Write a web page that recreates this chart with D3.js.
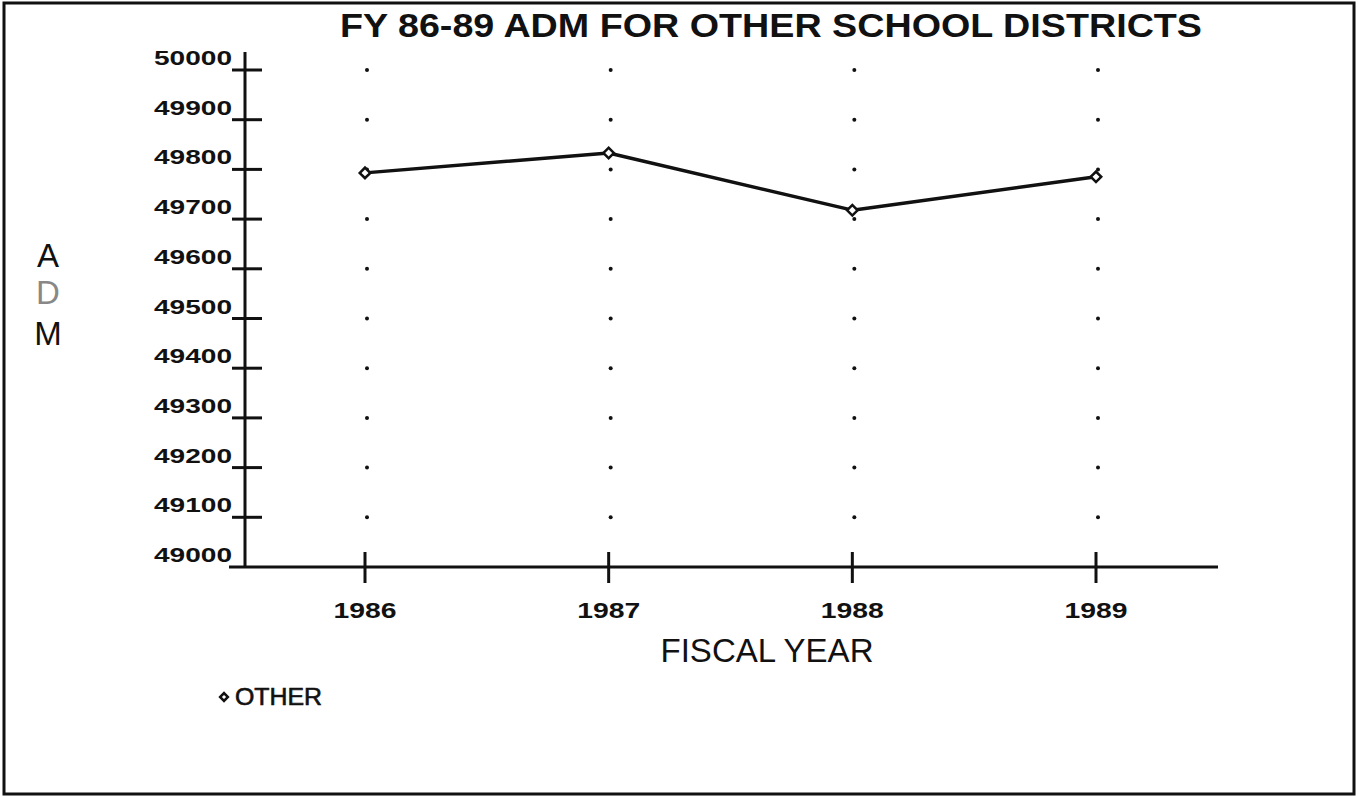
<!DOCTYPE html>
<html><head><meta charset="utf-8">
<script src="https://cdn.jsdelivr.net/npm/d3@7/dist/d3.min.js"></script>
<style>body{margin:0;background:#fff}svg{display:block}</style>
</head><body>
<script>
const years = ["1986","1987","1988","1989"];
const admValues = [49793, 49833, 49718, 49785];
const yTicks = [49000,49100,49200,49300,49400,49500,49600,49700,49800,49900,50000];
const seriesName = "OTHER";
const titleText = "FY 86-89 ADM FOR OTHER SCHOOL DISTRICTS";

const W = 1358, H = 797;
const svg = d3.select("body").append("svg").attr("width", W).attr("height", H);
svg.append("rect").attr("x",4).attr("y",3).attr("width",1350).attr("height",791)
  .attr("fill","#fff").attr("stroke","#111").attr("stroke-width",3);

const x = d3.scalePoint().domain(years).range([365, 1096]);
const y = d3.scaleLinear().domain([49000, 50000]).range([567, 70]);
const font = "Liberation Sans, Arial, sans-serif";

// title
svg.append("text").attr("x", 771).attr("y", 37).attr("text-anchor","middle")
  .attr("font-family", font).attr("font-weight","bold").attr("font-size", 33)
  .attr("textLength", 862).attr("lengthAdjust","spacingAndGlyphs")
  .attr("fill","#111").text(titleText);

// grid dots
const gridVals = yTicks.filter(v => v > 49000);
years.forEach(yr => {
  gridVals.forEach(v => {
    svg.append("circle").attr("cx", x(yr)+2).attr("cy", y(v)).attr("r", 2).attr("fill","#111");
  });
});

// axes lines
svg.append("line").attr("x1",245).attr("x2",245).attr("y1",52).attr("y2",567)
  .attr("stroke","#111").attr("stroke-width",3);
svg.append("line").attr("x1",229).attr("x2",1218).attr("y1",567).attr("y2",567)
  .attr("stroke","#111").attr("stroke-width",3);

// y ticks
yTicks.forEach(v => {
  if (v > 49000) {
    svg.append("line").attr("x1",232).attr("x2",262).attr("y1",y(v)).attr("y2",y(v))
      .attr("stroke","#111").attr("stroke-width",3);
  }
  svg.append("text").attr("x",232).attr("y",y(v)-5).attr("text-anchor","end")
    .attr("font-family",font).attr("font-weight","bold").attr("font-size",21)
    .attr("textLength",78).attr("lengthAdjust","spacingAndGlyphs")
    .attr("fill","#111").text(v);
});

// x ticks
years.forEach(yr => {
  svg.append("line").attr("x1",x(yr)).attr("x2",x(yr)).attr("y1",552).attr("y2",583)
    .attr("stroke","#111").attr("stroke-width",3);
  svg.append("text").attr("x",x(yr)).attr("y",618).attr("text-anchor","middle")
    .attr("font-family",font).attr("font-weight","bold").attr("font-size",22)
    .attr("textLength",63).attr("lengthAdjust","spacingAndGlyphs")
    .attr("fill","#111").text(yr);
});

// axis titles
svg.append("text").attr("x",767).attr("y",662).attr("text-anchor","middle")
  .attr("font-family",font).attr("font-size",33)
  .attr("textLength",213).attr("lengthAdjust","spacingAndGlyphs")
  .attr("fill","#111").text("FISCAL YEAR");
const yTitle = ["A","D","M"];
const yTitleBase = [267, 304, 345];
yTitle.forEach((c,i) => {
  svg.append("text").attr("x",48).attr("y",yTitleBase[i]).attr("text-anchor","middle")
    .attr("font-family",font).attr("font-size",33).attr("fill", i===1 ? "#888" : "#111").text(c);
});

// line
const line = d3.line().x((d,i)=>x(years[i])).y(d=>y(d));
svg.append("path").datum(admValues).attr("d", line).attr("fill","none")
  .attr("stroke","#111").attr("stroke-width",3.5).attr("stroke-linejoin","round");
const diamond = d3.symbol().type(d3.symbolSquare).size(55);
admValues.forEach((v,i) => {
  svg.append("path").attr("d", diamond).attr("transform",`translate(${x(years[i])},${y(v)}) rotate(45)`)
    .attr("fill","#fff").attr("stroke","#111").attr("stroke-width",2.5);
});

// legend
svg.append("path").attr("d", d3.symbol().type(d3.symbolSquare).size(30))
  .attr("transform","translate(224,697) rotate(45)").attr("fill","#fff").attr("stroke","#111").attr("stroke-width",2.5);
svg.append("text").attr("x",235).attr("y",705).attr("font-family",font).attr("font-size",23)
  .attr("textLength",87).attr("lengthAdjust","spacingAndGlyphs").attr("fill","#111")
  .attr("stroke","#111").attr("stroke-width",0.6).text(seriesName);
</script>
</body></html>
